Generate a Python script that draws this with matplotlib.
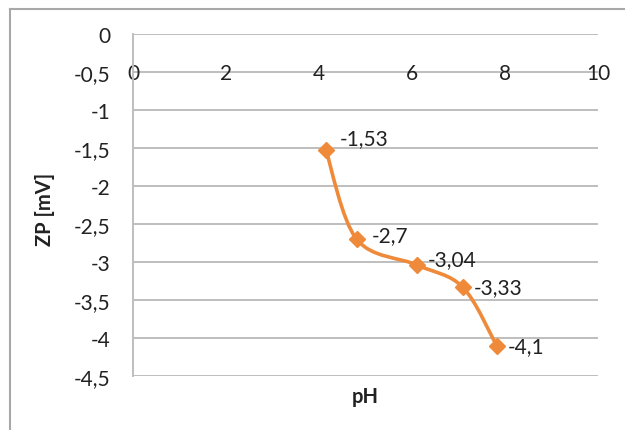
import numpy as np
import matplotlib
matplotlib.use("Agg")
import matplotlib.pyplot as plt
from matplotlib.path import Path
from matplotlib.patches import PathPatch
from matplotlib.lines import Line2D

# Zeta potential vs pH
ph = [4.15, 4.81, 6.11, 7.09, 7.82]
zp = [-1.53, -2.7, -3.04, -3.33, -4.1]
zp_labels = ["-1,53", "-2,7", "-3,04", "-3,33", "-4,1"]

x_ticks = [0, 2, 4, 6, 8, 10]
y_ticks = [0, -0.5, -1, -1.5, -2, -2.5, -3, -3.5, -4, -4.5]
y_tick_labels = ["0", "-0,5", "-1", "-1,5", "-2", "-2,5", "-3", "-3,5", "-4", "-4,5"]

ORANGE = "#EE8A3A"
GRID = "#BEBEBE"
TEXT = "#222222"

plt.rcParams["font.family"] = ["Lato", "DejaVu Sans"]

fig = plt.figure(figsize=(6.25, 4.31), dpi=100)
ax = fig.add_axes([133 / 625, 1 - 377 / 431, (598 - 133) / 625, (377 - 35) / 431])

ax.set_xlim(0, 10)
ax.set_ylim(-4.5, 0)

# gridlines at every y tick
for yv in y_ticks:
    ax.axhline(yv, color=GRID, lw=1.4, zorder=1)

for s in ["top", "right", "bottom"]:
    ax.spines[s].set_visible(False)
ax.spines["left"].set_color(GRID)
ax.spines["left"].set_linewidth(1.4)

ax.set_xticks(x_ticks)
ax.set_xticklabels([str(v) for v in x_ticks])
ax.set_yticks(y_ticks)
ax.set_yticklabels(y_tick_labels)
ax.tick_params(axis="x", length=0, pad=21, labelsize=15, labelcolor=TEXT)
ax.tick_params(axis="y", length=0, pad=16, labelsize=15, labelcolor=TEXT)

# smoothed line through the points (Catmull-Rom as cubic Bezier)
pts = np.column_stack([ph, zp])
ext = np.vstack([pts[0], pts, pts[-1]])
verts = [tuple(pts[0])]
codes = [Path.MOVETO]
for i in range(1, len(ext) - 2):
    p0, p1, p2, p3 = ext[i - 1], ext[i], ext[i + 1], ext[i + 2]
    c1 = p1 + (p2 - p0) / 6.0
    c2 = p2 - (p3 - p1) / 6.0
    verts += [tuple(c1), tuple(c2), tuple(p2)]
    codes += [Path.CURVE4] * 3
ax.add_patch(PathPatch(Path(verts, codes), facecolor="none", edgecolor=ORANGE,
                       lw=2.6, zorder=3, capstyle="round"))
ax.plot(ph, zp, linestyle="none", marker="D", markersize=8.5, color=ORANGE, zorder=4)

# data labels
offsets = [(10, 9), (11, 3), (8, 4), (8, 0), (8, 0)]
for x, y, lab, (dx, dy) in zip(ph, zp, zp_labels, offsets):
    ax.annotate(lab, (x, y), xytext=(dx, dy), textcoords="offset points",
                ha="left", va="center", fontsize=15, color=TEXT, zorder=5)

ax.set_xlabel("pH", fontsize=14.5, fontweight="bold", color=TEXT)
ax.xaxis.set_label_coords(0.5, -0.028)
ax.set_ylabel("ZP [mV]", fontsize=14.5, fontweight="bold", color=TEXT)
ax.yaxis.set_label_coords(-0.168, 0.49)

# move the x axis labels to the zero line
ax.spines["bottom"].set_position(("data", 0))

# chart area border (left and top edges)
fig.add_artist(Line2D([10 / 625, 10 / 625], [0, 1 - 10 / 431], color="#A8A8A8", lw=1.5,
                      transform=fig.transFigure))
fig.add_artist(Line2D([10 / 625, 1], [1 - 10 / 431, 1 - 10 / 431], color="#A8A8A8", lw=1.5,
                      transform=fig.transFigure))

fig.savefig("out.png", dpi=100)
